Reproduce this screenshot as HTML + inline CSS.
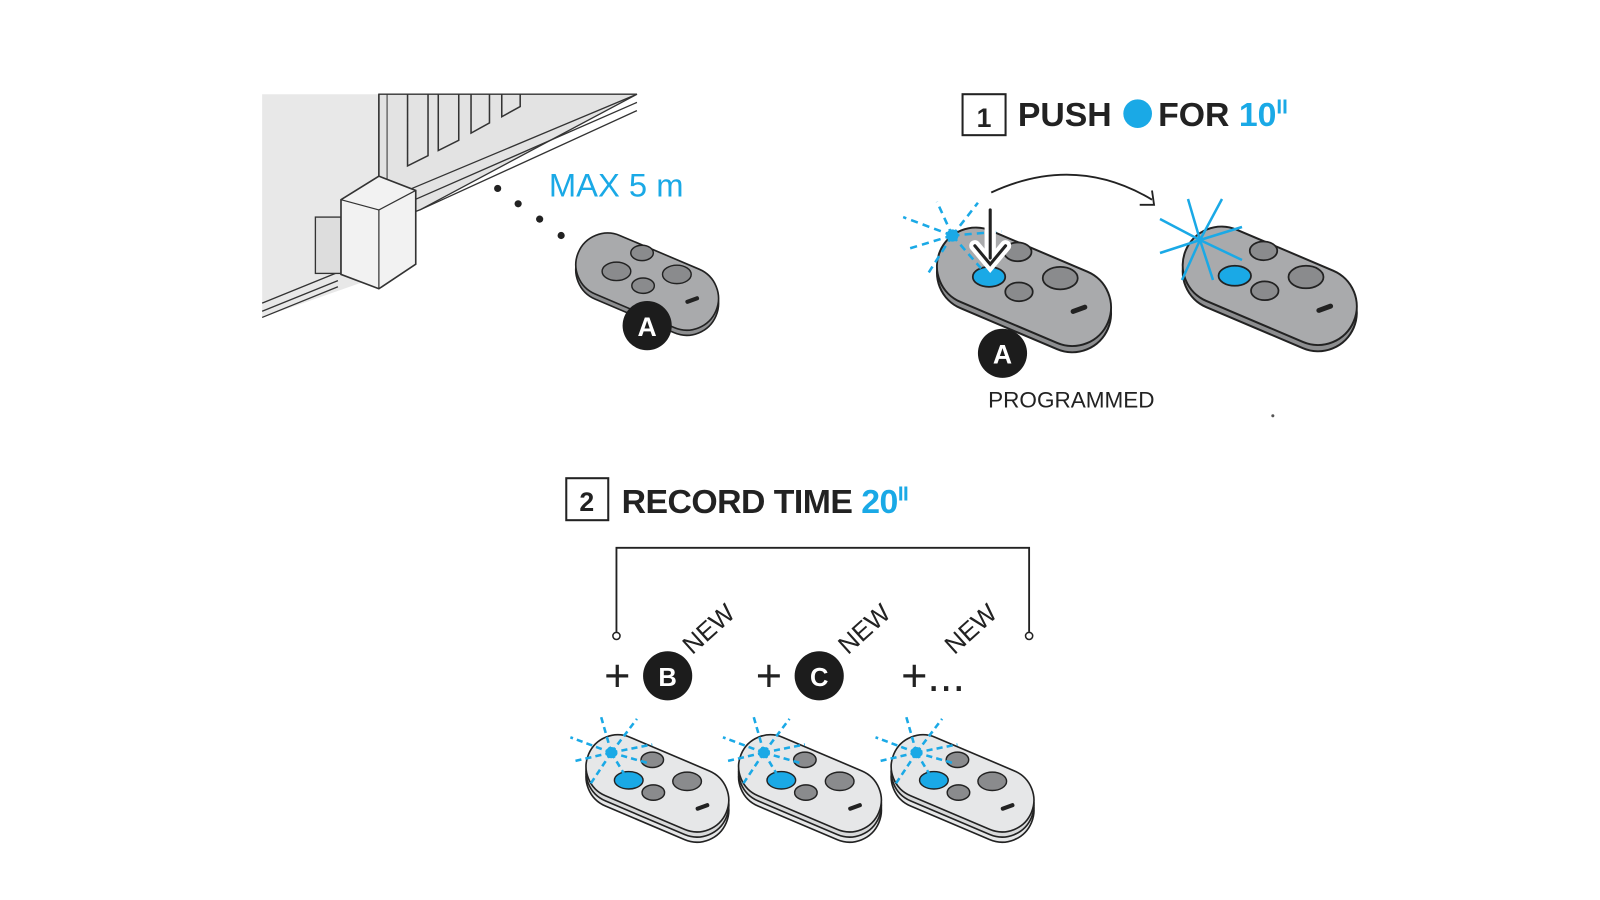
<!DOCTYPE html>
<html><head><meta charset="utf-8"><style>
html,body{margin:0;padding:0;background:#fff;}
svg{display:block;font-family:"Liberation Sans",Arial,sans-serif;}
</style></head><body>
<svg width="1600" height="900" viewBox="0 0 1600 900" xmlns="http://www.w3.org/2000/svg">
<defs>
<g id="pill">
  <g transform="translate(0,10)"><rect x="-73" y="-31" width="146" height="62" rx="31" fill="#8d8e90" stroke="#222" stroke-width="1.6" transform="rotate(23)"/></g>
  <g transform="translate(0,5)"><rect x="-73" y="-31" width="146" height="62" rx="31" fill="#a9aaac" stroke="#222" stroke-width="1.6" transform="rotate(23)"/></g>
</g>
<g id="btns">
  <ellipse cx="-5" cy="-23" rx="11" ry="7.5" fill="#8a8b8d" stroke="#222" stroke-width="1.4"/>
  <ellipse cx="-4" cy="9" rx="11" ry="7.5" fill="#8a8b8d" stroke="#222" stroke-width="1.4"/>
  <ellipse cx="29" cy="-2" rx="14" ry="9" fill="#8a8b8d" stroke="#222" stroke-width="1.4"/>
  <rect x="37" y="21" width="14" height="4" rx="2" fill="#222" transform="rotate(-20 44 23)"/>
</g>
</defs>
<g transform="scale(1.024)">
<!-- gate scene -->
<polygon points="256,92 370,92 370,270 256,310" fill="#e8e8e8"/>
<polygon points="370,92 622,92 410,205 370,220" fill="#e3e3e3" stroke="#333" stroke-width="1.3"/>
<line x1="370" y1="92" x2="370" y2="230" stroke="#333" stroke-width="1.5"/>
<line x1="378" y1="92" x2="378" y2="228" stroke="#333" stroke-width="1"/>
<path d="M398,92 V162 L418,152 V92 M428,92 V147 L448,137 V92 M460,92 V130 L478,120 V92 M490,92 V114 L508,104 V92" fill="none" stroke="#333" stroke-width="1.5"/>
<path d="M400,185 L622,92 M405,195 L622,100 M410,205 L622,108" stroke="#333" stroke-width="1.3" fill="none"/>
<path d="M256,296 L330,266 M256,304 L330,274 M256,310 L330,280" stroke="#333" stroke-width="1.3"/>
<rect x="308" y="212" width="25" height="55" fill="#ddd" stroke="#333" stroke-width="1.3"/>
<polygon points="333,195 370,172 406,186 406,258 370,282 333,268" fill="#f2f2f2" stroke="#333" stroke-width="1.6"/>
<line x1="370" y1="205" x2="406" y2="186" stroke="#333" stroke-width="1.2"/>
<line x1="370" y1="205" x2="370" y2="282" stroke="#333" stroke-width="1.2"/>
<line x1="333" y1="195" x2="370" y2="205" stroke="#333" stroke-width="1.2"/>
<circle cx="486" cy="184" r="3.5" fill="#222"/><circle cx="506" cy="199" r="3.5" fill="#222"/><circle cx="527" cy="214" r="3.5" fill="#222"/><circle cx="548" cy="230" r="3.5" fill="#222"/>
<text x="536" y="192" font-size="32" fill="#1aa9e6">MAX 5 m</text>

<!-- remote A -->
<g transform="translate(632,270)"><use href="#pill"/><use href="#btns"/>
<ellipse cx="-30" cy="-5" rx="14" ry="9" fill="#8a8b8d" stroke="#222" stroke-width="1.4"/></g>
<circle cx="632" cy="318" r="24" fill="#1c1c1c"/><text x="632" y="328" font-size="26" font-weight="bold" fill="#fff" text-anchor="middle">A</text>

<!-- step 1 -->
<rect x="940" y="92" width="42" height="40" fill="#fff" stroke="#222" stroke-width="2"/>
<text x="961" y="124" font-size="26" font-weight="bold" text-anchor="middle" fill="#222">1</text>
<text x="994" y="123" font-size="33" font-weight="bold" fill="#222">PUSH</text>
<circle cx="1111" cy="111" r="14" fill="#1aa9e6"/>
<text x="1131" y="123" font-size="33" font-weight="bold" fill="#222">FOR <tspan fill="#1aa9e6">10</tspan><tspan fill="#1aa9e6" font-size="20" dy="-12">II</tspan></text>
<path d="M968,188 Q1050,150 1125,195" fill="none" stroke="#222" stroke-width="1.8"/>
<path d="M1113,200 L1127,200 L1125,186" fill="none" stroke="#222" stroke-width="1.8"/>

<g transform="translate(1000,274) scale(1.22)"><use href="#pill"/><use href="#btns"/>
<ellipse cx="-28" cy="-3" rx="13" ry="8" fill="#1aa9e6" stroke="#222" stroke-width="1.4"/></g>
<g stroke="#1aa9e6" stroke-width="2.5" stroke-dasharray="7,5">
<line x1="930" y1="230" x2="882" y2="212"/><line x1="930" y1="230" x2="915" y2="197"/><line x1="930" y1="230" x2="955" y2="198"/>
<line x1="930" y1="230" x2="978" y2="226"/><line x1="930" y1="230" x2="887" y2="243"/><line x1="930" y1="230" x2="907" y2="266"/><line x1="930" y1="230" x2="958" y2="262"/></g>
<circle cx="930" cy="230" r="6" fill="#1aa9e6"/>
<path d="M967,205 V252 M952,240 L967,258 L982,240" fill="none" stroke="#fff" stroke-width="11" stroke-linecap="round"/>
<path d="M967,205 V252 M952,240 L967,258 L982,240" fill="none" stroke="#222" stroke-width="3" stroke-linecap="round"/>
<circle cx="979" cy="345" r="24" fill="#1c1c1c"/><text x="979" y="355" font-size="26" font-weight="bold" fill="#fff" text-anchor="middle">A</text>
<text x="965" y="398" font-size="22" fill="#222">PROGRAMMED</text>

<g transform="translate(1240,273) scale(1.22)"><use href="#pill"/><use href="#btns"/>
<ellipse cx="-28" cy="-3" rx="13" ry="8" fill="#1aa9e6" stroke="#222" stroke-width="1.4"/></g>
<circle cx="1243" cy="406" r="1.5" fill="#555"/>

<!-- step 2 -->
<rect x="553" y="467" width="41" height="41" fill="#fff" stroke="#222" stroke-width="2"/>
<text x="573" y="499" font-size="26" font-weight="bold" text-anchor="middle" fill="#222">2</text>
<text x="607" y="501" font-size="33" font-weight="bold" fill="#222" letter-spacing="-0.5">RECORD TIME <tspan fill="#1aa9e6">20</tspan><tspan fill="#1aa9e6" font-size="20" dy="-12">II</tspan></text>
<path d="M602,617 V535 H1005 V617" fill="none" stroke="#222" stroke-width="1.8"/>
<circle cx="602" cy="621" r="3.5" fill="#fff" stroke="#222" stroke-width="1.5"/>
<circle cx="1005" cy="621" r="3.5" fill="#fff" stroke="#222" stroke-width="1.5"/>

<text x="590" y="675" font-size="44" fill="#222">+</text>
<circle cx="652" cy="660" r="24" fill="#1c1c1c"/><text x="652" y="670" font-size="25" font-weight="bold" fill="#fff" text-anchor="middle">B</text>
<text x="676" y="640" font-size="25" fill="#222" transform="rotate(-42 676 640)">NEW</text>
<text x="738" y="675" font-size="44" fill="#222">+</text>
<circle cx="800" cy="660" r="24" fill="#1c1c1c"/><text x="800" y="670" font-size="25" font-weight="bold" fill="#fff" text-anchor="middle">C</text>
<text x="828" y="640" font-size="25" fill="#222" transform="rotate(-42 828 640)">NEW</text>
<text x="880" y="675" font-size="44" fill="#222">+...</text>
<text x="932" y="640" font-size="25" fill="#222" transform="rotate(-42 932 640)">NEW</text>

<g id="br">
<g transform="translate(642,765)">
 <g transform="translate(0,10)"><rect x="-73" y="-31" width="146" height="62" rx="31" fill="#e6e7e8" stroke="#222" stroke-width="1.6" transform="rotate(23)"/></g>
 <g transform="translate(0,5)"><rect x="-73" y="-31" width="146" height="62" rx="31" fill="#d8d9da" stroke="#222" stroke-width="1.6" transform="rotate(23)"/></g>
 <rect x="-73" y="-31" width="146" height="62" rx="31" fill="#e6e7e8" stroke="#222" stroke-width="1.6" transform="rotate(23)"/>
 <use href="#btns"/>
 <ellipse cx="-28" cy="-3" rx="14" ry="8.5" fill="#1aa9e6" stroke="#222" stroke-width="1.4"/>
 <g stroke="#1aa9e6" stroke-width="2.5" stroke-dasharray="6,4">
 <line x1="-45" y1="-30" x2="-85" y2="-45"/><line x1="-45" y1="-30" x2="-55" y2="-65"/><line x1="-45" y1="-30" x2="-20" y2="-63"/>
 <line x1="-45" y1="-30" x2="-5" y2="-38"/><line x1="-45" y1="-30" x2="-80" y2="-22"/><line x1="-45" y1="-30" x2="-65" y2="0"/><line x1="-45" y1="-30" x2="-30" y2="-5"/><line x1="-45" y1="-30" x2="-10" y2="-20"/></g>
 <circle cx="-45" cy="-30" r="5.5" fill="#1aa9e6"/>
</g></g>
<use href="#br" transform="translate(149,0)"/>
<use href="#br" transform="translate(298,0)"/>
</g>
<!-- solid star on programmed remote (original coords) -->
<g stroke="#1aa9e6" stroke-width="2.5">
<line x1="1200" y1="240" x2="1160" y2="219"/><line x1="1200" y1="240" x2="1188" y2="199"/><line x1="1200" y1="240" x2="1222" y2="199"/>
<line x1="1200" y1="240" x2="1242" y2="227"/><line x1="1200" y1="240" x2="1242" y2="260"/><line x1="1200" y1="240" x2="1213" y2="280"/>
<line x1="1200" y1="240" x2="1182" y2="280"/><line x1="1200" y1="240" x2="1160" y2="253"/></g>
</svg>
</body></html>
